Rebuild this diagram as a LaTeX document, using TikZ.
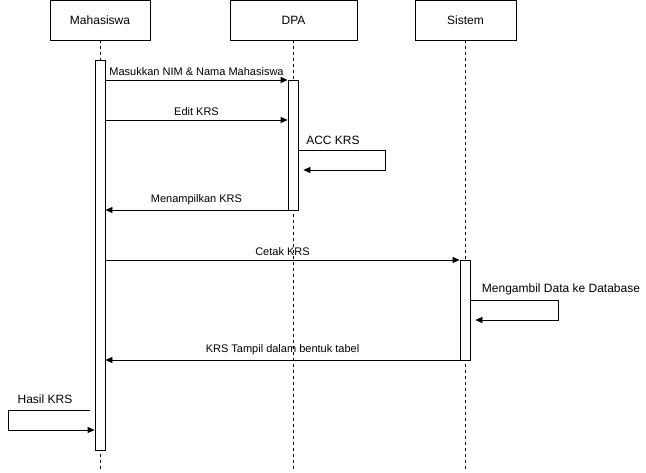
\documentclass[tikz,border=0pt]{standalone}
\usepackage{fontspec}
\setmainfont{Liberation Sans}
\usetikzlibrary{arrows.meta,positioning}
\begin{document}
\begin{tikzpicture}[x=1pt,y=-1pt,>={Triangle[length=7pt,width=6pt]},line width=0.8pt,
	actor/.style={draw,fill=white,minimum height=40pt,inner sep=0pt,font=\fontsize{12}{14}\selectfont},
	act/.style={draw,fill=white,minimum width=10pt,inner sep=0pt},
	life/.style={dash pattern=on 3pt off 3pt,line width=0.6pt},
	msg/.style={font=\fontsize{11}{13}\selectfont,above=1pt},
	note/.style={font=\fontsize{12}{14}\selectfont}]
	\useasboundingbox (0,0) rectangle (646,472);
	% participants
	\node[actor,minimum width=100pt] (mhs) at (100,20) {Mahasiswa};
	\node[actor,minimum width=127pt] (dpa) at (293.5,20) {DPA};
	\node[actor,minimum width=101pt] (sis) at (465.5,20) {Sistem};
	\coordinate (mhsend) at (100,472);
	\coordinate (dpaend) at (293.5,472);
	\coordinate (sisend) at (465.5,472);
	\foreach \p in {mhs,dpa,sis} \draw[life] (\p.south)--(\p end);
	% activations
	\node[act,minimum height=390pt] (mhsact) at (100,255) {};
	\node[act,minimum height=130pt] (dpaact) at (293,145) {};
	\node[act,minimum height=100pt] (sisact) at (465,310) {};
	% messages
	\draw[->] (mhsact.east |- 0,80) -- node[msg] {Masukkan NIM \& Nama Mahasiswa} (dpaact.west |- 0,80);
	\draw[->] (mhsact.east |- 0,120) -- node[msg] {Edit KRS} (dpaact.west |- 0,120);
	\draw[->] (dpaact.east |- 0,150) -- (385,150) -- (385,170) -- ([xshift=5pt]dpaact.east |- 0,170);
	\node[note] (acc) at (333,140) {ACC KRS};
	\draw[->] (dpaact.west |- 0,210) -- node[msg] {Menampilkan KRS} (mhsact.east |- 0,210);
	\draw[->] (mhsact.east |- 0,260) -- node[msg] {Cetak KRS} (sisact.west |- 0,260);
	\draw[->] (sisact.east |- 0,300) -- (558,300) -- (558,320) -- ([xshift=5pt]sisact.east |- 0,320);
	\node[note] (ambil) at (561,289) {Mengambil Data ke Database};
	\draw[->] (sisact.west |- 0,360) -- node[msg] {KRS Tampil dalam bentuk tabel} (mhsact.east |- 0,360);
	\draw[->] ([xshift=-5pt]mhsact.west |- 0,410) -- (8,410) -- (8,430) -- (mhsact.west |- 0,430);
	\node[note] (hasil) at (45,399) {Hasil KRS};
\end{tikzpicture}
\end{document}
